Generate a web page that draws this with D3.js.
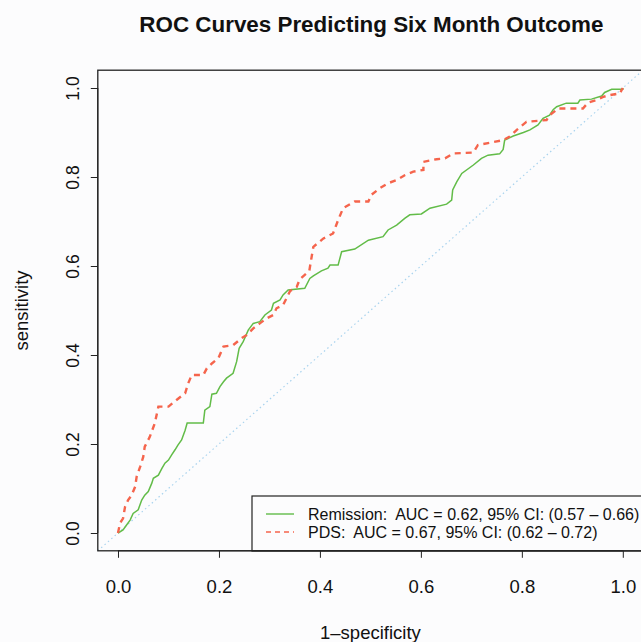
<!DOCTYPE html>
<html lang="en">
<head>
  <meta charset="UTF-8">
  <title>ROC Curves Predicting Six Month Outcome</title>
  <script src="https://d3js.org/d3.v7.min.js"></script>
  <style>
    body {
      margin: 0;
      background: #fcfcfd;
      font-family: "Liberation Sans", Arial, sans-serif;
    }
    svg { display: block; }
    .axis text { fill: #111; }
    .axis line { stroke: #222; }
    .legend-text { white-space: pre; }
  </style>
</head>
<body>
  <svg width="641" height="642"></svg>

  <script>
    // Remission ROC curve (1-specificity, sensitivity)
    const remissionFpr = [0, 0.010, 0.017, 0.024, 0.030, 0.040, 0.047, 0.053, 0.060, 0.067, 0.070, 0.080, 0.087, 0.093, 0.100, 0.106, 0.113, 0.119, 0.126, 0.133, 0.137, 0.169, 0.172, 0.182, 0.186, 0.195, 0.202, 0.209, 0.215, 0.228, 0.235, 0.240, 0.248, 0.258, 0.268, 0.281, 0.291, 0.304, 0.308, 0.321, 0.327, 0.337, 0.370, 0.380, 0.387, 0.403, 0.416, 0.420, 0.436, 0.443, 0.469, 0.496, 0.525, 0.535, 0.552, 0.568, 0.578, 0.601, 0.618, 0.651, 0.661, 0.663, 0.671, 0.681, 0.704, 0.720, 0.733, 0.756, 0.763, 0.766, 0.783, 0.803, 0.816, 0.832, 0.842, 0.855, 0.862, 0.869, 0.888, 0.911, 0.915, 0.938, 0.958, 0.964, 0.978, 1.0, 1.0];
    const remissionTpr = [0, 0.007, 0.018, 0.029, 0.044, 0.052, 0.074, 0.085, 0.093, 0.112, 0.123, 0.130, 0.145, 0.157, 0.164, 0.175, 0.187, 0.198, 0.209, 0.231, 0.247, 0.247, 0.276, 0.284, 0.312, 0.314, 0.329, 0.340, 0.348, 0.359, 0.385, 0.415, 0.430, 0.456, 0.471, 0.475, 0.490, 0.501, 0.516, 0.524, 0.535, 0.546, 0.550, 0.572, 0.578, 0.589, 0.595, 0.602, 0.602, 0.632, 0.638, 0.658, 0.666, 0.681, 0.692, 0.707, 0.715, 0.717, 0.730, 0.739, 0.748, 0.771, 0.789, 0.808, 0.827, 0.842, 0.849, 0.852, 0.862, 0.883, 0.892, 0.900, 0.906, 0.917, 0.932, 0.939, 0.951, 0.958, 0.966, 0.966, 0.973, 0.975, 0.982, 0.990, 0.997, 0.997, 1.0];

    // PDS ROC curve
    const pdsFpr = [0, 0.004, 0.010, 0.014, 0.020, 0.027, 0.034, 0.037, 0.044, 0.050, 0.053, 0.063, 0.073, 0.080, 0.100, 0.116, 0.133, 0.139, 0.146, 0.169, 0.176, 0.186, 0.199, 0.209, 0.228, 0.245, 0.255, 0.268, 0.281, 0.294, 0.308, 0.314, 0.327, 0.337, 0.341, 0.354, 0.360, 0.370, 0.379, 0.382, 0.387, 0.407, 0.426, 0.436, 0.446, 0.469, 0.496, 0.502, 0.519, 0.535, 0.552, 0.568, 0.585, 0.605, 0.605, 0.631, 0.648, 0.664, 0.704, 0.713, 0.737, 0.763, 0.776, 0.790, 0.809, 0.849, 0.855, 0.869, 0.872, 0.921, 0.931, 0.948, 0.961, 0.974, 0.994, 1.0];
    const pdsTpr = [0, 0.022, 0.033, 0.059, 0.074, 0.085, 0.104, 0.127, 0.149, 0.171, 0.194, 0.216, 0.247, 0.284, 0.284, 0.299, 0.314, 0.336, 0.355, 0.355, 0.370, 0.381, 0.393, 0.419, 0.422, 0.438, 0.445, 0.460, 0.471, 0.482, 0.490, 0.505, 0.512, 0.535, 0.544, 0.553, 0.570, 0.580, 0.589, 0.610, 0.643, 0.662, 0.673, 0.703, 0.730, 0.745, 0.745, 0.760, 0.775, 0.786, 0.793, 0.804, 0.812, 0.816, 0.834, 0.840, 0.842, 0.853, 0.855, 0.872, 0.877, 0.883, 0.891, 0.906, 0.924, 0.928, 0.939, 0.951, 0.954, 0.954, 0.967, 0.973, 0.980, 0.984, 0.988, 1.0];

    const tickValues = [0, 0.2, 0.4, 0.6, 0.8, 1.0];
    const legendLabels = [
      'Remission:  AUC = 0.62, 95% CI: (0.57 \u2013 0.66)',
      'PDS:  AUC = 0.67, 95% CI: (0.62 \u2013 0.72)'
    ];

    const svg = d3.select('svg');
    const box = { left: 97.8, right: 643, top: 70.2, bottom: 550.8 };

    // R style 4% padding on both axes
    const x = d3.scaleLinear().domain([-0.04, 1.04]).range([box.left, box.right]);
    const y = d3.scaleLinear().domain([-0.04, 1.04]).range([box.bottom, box.top]);

    const toPoints = (xs, ys) => xs.map((v, i) => [v, ys[i]]);
    const line = d3.line().x(d => x(d[0])).y(d => y(d[1]));

    const plot = svg.append('g');

    // chance diagonal
    plot.append('line')
      .attr('x1', x(-0.04)).attr('y1', y(-0.04))
      .attr('x2', x(1.04)).attr('y2', y(1.04))
      .attr('stroke', '#a9d3ee')
      .attr('stroke-width', 1.2)
      .attr('stroke-dasharray', '1.5,3');

    plot.append('path')
      .datum(toPoints(remissionFpr, remissionTpr))
      .attr('fill', 'none')
      .attr('stroke', '#62bc48')
      .attr('stroke-width', 1.5)
      .attr('d', line);

    plot.append('path')
      .datum(toPoints(pdsFpr, pdsTpr))
      .attr('fill', 'none')
      .attr('stroke', '#f5644c')
      .attr('stroke-width', 2.4)
      .attr('stroke-dasharray', '6,5')
      .attr('d', line);

    // legend
    const legend = svg.append('g');
    legend.append('rect')
      .attr('x', 252).attr('y', 496)
      .attr('width', 400).attr('height', 55)
      .attr('fill', '#fcfcfd')
      .attr('stroke', '#222').attr('stroke-width', 1.2);

    const legendStyles = [
      { color: '#62bc48', dash: null, width: 1.4 },
      { color: '#f5644c', dash: '5,4', width: 1.4 }
    ];
    legendLabels.forEach((label, i) => {
      const ly = 514 + i * 18;
      legend.append('line')
        .attr('x1', 266).attr('x2', 294)
        .attr('y1', ly).attr('y2', ly)
        .attr('stroke', legendStyles[i].color)
        .attr('stroke-width', legendStyles[i].width)
        .attr('stroke-dasharray', legendStyles[i].dash);
      legend.append('text')
        .attr('class', 'legend-text')
        .attr('x', 308).attr('y', ly)
        .attr('dy', '0.36em')
        .style('font-size', '16px')
        .attr('fill', '#111')
        .text(label);
    });

    // frame
    svg.append('rect')
      .attr('x', box.left).attr('y', box.top)
      .attr('width', box.right - box.left)
      .attr('height', box.bottom - box.top)
      .attr('fill', 'none')
      .attr('stroke', '#222')
      .attr('stroke-width', 1.3);

    // axes
    const xAxis = svg.append('g')
      .attr('class', 'axis')
      .attr('transform', `translate(0,${box.bottom})`)
      .call(d3.axisBottom(x).tickValues(tickValues).tickSize(7).tickPadding(35).tickFormat(d3.format('.1f')));
    xAxis.select('.domain').attr('stroke', '#222').attr('d', `M${x(0)},0H${x(1)}`);
    xAxis.selectAll('text').attr('dy', '0').style('font-size', '18.5px');

    const yAxis = svg.append('g')
      .attr('class', 'axis')
      .attr('transform', `translate(${box.left},0)`)
      .call(d3.axisLeft(y).tickValues(tickValues).tickSize(7).tickFormat(d3.format('.1f')));
    yAxis.select('.domain').attr('stroke', '#222').attr('d', `M0,${y(0)}V${y(1)}`);
    yAxis.selectAll('.tick text')
      .attr('x', null)
      .attr('text-anchor', 'middle')
      .attr('transform', 'translate(-25,0) rotate(-90)')
      .attr('dy', '0.35em')
      .style('font-size', '17.5px');

    // titles
    svg.append('text')
      .attr('x', (box.left + box.right) / 2 + 1)
      .attr('y', 32)
      .attr('text-anchor', 'middle')
      .style('font-size', '22.4px')
      .style('font-weight', 'bold')
      .attr('fill', '#111')
      .text('ROC Curves Predicting Six Month Outcome');

    svg.append('text')
      .attr('x', (box.left + box.right) / 2)
      .attr('y', 639)
      .attr('text-anchor', 'middle')
      .style('font-size', '18.5px')
      .attr('fill', '#111')
      .text('1\u2013specificity');

    svg.append('text')
      .attr('transform', `translate(28,${(box.top + box.bottom) / 2}) rotate(-90)`)
      .attr('text-anchor', 'middle')
      .style('font-size', '18.5px')
      .attr('fill', '#111')
      .text('sensitivity');
  </script>
</body>
</html>
